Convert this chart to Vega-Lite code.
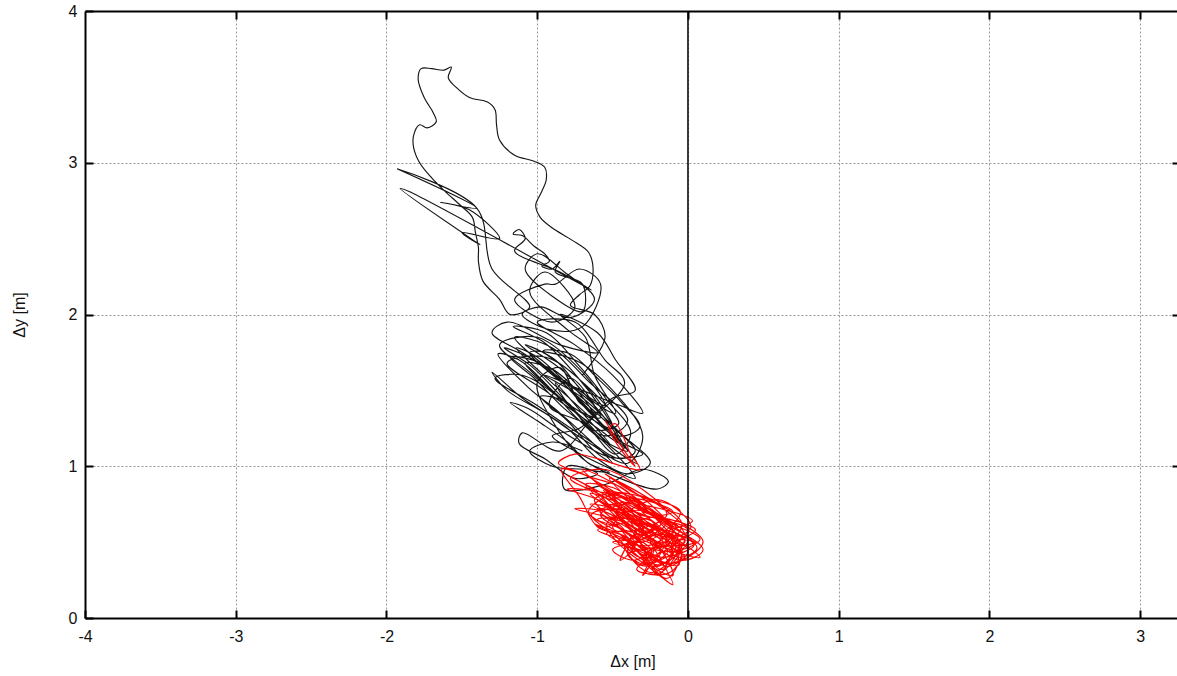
{
  "$schema": "https://vega.github.io/schema/vega-lite/v6.json",
  "width": 1095,
  "height": 607,
  "autosize": "none",
  "padding": {"left": 85, "top": 11, "right": 0, "bottom": 58},
  "background": "white",
  "config": {
    "view": {"stroke": null},
    "font": "Liberation Sans",
    "axis": {
      "domainColor": "#000", "domainWidth": 2, "tickColor": "#000", "tickWidth": 2, "tickSize": -8,
      "gridColor": "#999", "gridDash": [2, 2], "gridWidth": 1, "labelFlush": false
    }
  },
  "layer": [
    {
      "data": {"values": [
        {"x":-0.70,"y":1.60},{"x":-0.55,"y":1.85},{"x":-0.62,"y":2.00},{"x":-0.78,"y":2.06},{"x":-0.72,"y":2.13},{"x":-0.65,"y":2.19},{"x":-0.63,"y":2.31},{"x":-0.66,"y":2.41},{"x":-0.77,"y":2.49},{"x":-0.90,"y":2.57},{"x":-0.98,"y":2.64},{"x":-1.01,"y":2.72},{"x":-0.97,"y":2.81},{"x":-0.94,"y":2.89},{"x":-0.95,"y":2.97},{"x":-1.02,"y":3.01},{"x":-1.15,"y":3.05},{"x":-1.25,"y":3.15},{"x":-1.27,"y":3.25},{"x":-1.28,"y":3.35},{"x":-1.33,"y":3.40},{"x":-1.45,"y":3.43},{"x":-1.53,"y":3.49},{"x":-1.59,"y":3.56},{"x":-1.57,"y":3.63},{"x":-1.62,"y":3.61},{"x":-1.70,"y":3.62},{"x":-1.77,"y":3.62},{"x":-1.79,"y":3.55},{"x":-1.75,"y":3.43},{"x":-1.69,"y":3.33},{"x":-1.67,"y":3.27},{"x":-1.73,"y":3.23},{"x":-1.78,"y":3.25},{"x":-1.82,"y":3.18},{"x":-1.82,"y":3.10},{"x":-1.78,"y":3.00},{"x":-1.70,"y":2.90},{"x":-1.61,"y":2.81},{"x":-1.51,"y":2.72},{"x":-1.43,"y":2.64},{"x":-1.41,"y":2.54},{"x":-1.39,"y":2.44},{"x":-1.39,"y":2.35},{"x":-1.36,"y":2.22},{"x":-1.25,"y":2.10},{"x":-1.18,"y":2.00},
        {"x":-1.05,"y":2.05},{"x":-1.30,"y":2.30},{"x":-1.40,"y":2.70},{"x":-1.93,"y":2.96},{"x":-1.40,"y":2.70},{"x":-1.64,"y":2.74},{"x":-1.45,"y":2.69},{"x":-1.25,"y":2.50},{"x":-1.50,"y":2.54},{"x":-1.38,"y":2.46},{"x":-1.91,"y":2.83},{"x":-1.85,"y":2.81},{"x":-0.64,"y":2.16},{"x":-0.85,"y":2.28},
        {"x":-1.15,"y":2.42},{"x":-1.08,"y":2.50},{"x":-1.12,"y":2.56},{"x":-1.16,"y":2.53},{"x":-1.10,"y":2.52},{"x":-1.02,"y":2.45},{"x":-0.95,"y":2.40},{"x":-0.92,"y":2.35},{"x":-0.97,"y":2.32},{"x":-0.90,"y":2.30},{"x":-0.85,"y":2.35},{"x":-0.88,"y":2.28},{"x":-0.70,"y":2.20},
        {"x":-0.70,"y":2.02},{"x":-0.90,"y":2.12},{"x":-1.08,"y":2.30},{"x":-1.00,"y":2.40},{"x":-0.82,"y":2.28},{"x":-0.62,"y":2.10},{"x":-0.78,"y":1.98},{"x":-0.98,"y":2.05},{"x":-1.10,"y":2.00},{"x":-0.92,"y":1.90},{"x":-0.70,"y":1.92},{"x":-0.58,"y":2.20},{"x":-0.72,"y":2.30},{"x":-0.88,"y":2.20},
        {"x":-0.95,"y":2.20},{"x":-1.15,"y":2.10},{"x":-0.90,"y":1.95},{"x":-0.75,"y":2.05},{"x":-0.95,"y":2.28},{"x":-1.05,"y":2.15},{"x":-0.80,"y":1.90},{"x":-0.60,"y":1.75},{"x":-0.85,"y":1.80},{"x":-1.20,"y":1.95},{"x":-1.30,"y":1.88},{"x":-1.10,"y":1.75},{"x":-0.80,"y":1.55},{"x":-0.55,"y":1.40},{"x":-0.70,"y":1.62},{"x":-1.00,"y":1.85},{"x":-1.25,"y":1.80},{"x":-1.05,"y":1.62},{"x":-0.75,"y":1.38},{"x":-0.50,"y":1.25},{"x":-0.65,"y":1.50},{"x":-0.95,"y":1.72},{"x":-1.20,"y":1.68},{"x":-0.95,"y":1.50},{"x":-0.60,"y":1.25},{"x":-0.45,"y":1.15},{"x":-0.62,"y":1.40},{"x":-0.90,"y":1.62},{"x":-1.15,"y":1.85},{"x":-0.90,"y":1.78},{"x":-0.65,"y":1.55},{"x":-0.40,"y":1.30},{"x":-0.55,"y":1.20},{"x":-0.85,"y":1.45},{"x":-1.10,"y":1.60},{"x":-1.28,"y":1.58},{"x":-1.00,"y":1.40},{"x":-0.70,"y":1.20},{"x":-0.45,"y":1.05},{"x":-0.35,"y":1.10},{"x":-0.55,"y":1.30},{"x":-0.80,"y":1.52},{"x":-1.05,"y":1.75},{"x":-0.75,"y":1.70},{"x":-0.50,"y":1.50},{"x":-0.30,"y":1.20},{"x":-0.40,"y":1.02},{"x":-0.65,"y":1.15},{"x":-0.95,"y":1.35},{"x":-1.20,"y":1.50},{"x":-1.30,"y":1.62},{"x":-1.10,"y":1.45},{"x":-0.80,"y":1.25},{"x":-0.60,"y":1.05},{"x":-0.40,"y":0.95},{"x":-0.25,"y":1.02},{"x":-0.45,"y":1.22},{"x":-0.70,"y":1.45},{"x":-0.95,"y":1.60},{"x":-0.70,"y":1.50},{"x":-0.45,"y":1.40},{"x":-0.30,"y":1.35},{"x":-0.50,"y":1.60},{"x":-0.75,"y":1.80},{"x":-1.00,"y":1.95},{"x":-0.75,"y":1.95},{"x":-0.55,"y":1.70},{"x":-0.42,"y":1.55},{"x":-0.65,"y":1.30},{"x":-0.85,"y":1.10},{"x":-1.10,"y":1.22},{"x":-1.12,"y":1.15},{"x":-0.95,"y":1.05},{"x":-0.75,"y":0.92},{"x":-0.60,"y":0.95},{"x":-0.80,"y":1.00},{"x":-0.82,"y":0.85},{"x":-0.55,"y":0.88},{"x":-0.30,"y":0.98},{"x":-0.13,"y":0.90},{"x":-0.20,"y":0.85},{"x":-0.45,"y":0.92},{"x":-0.70,"y":1.05},{"x":-0.90,"y":1.30},{"x":-1.00,"y":1.55},{"x":-0.85,"y":1.65},{"x":-0.72,"y":1.42},{"x":-0.60,"y":1.35},{"x":-0.78,"y":1.58},{"x":-0.92,"y":1.40},{"x":-0.68,"y":1.28},{"x":-0.52,"y":1.15},{"x":-0.70,"y":1.35},{"x":-0.88,"y":1.55},{"x":-0.78,"y":1.40},{"x":-0.58,"y":1.32},{"x":-0.82,"y":1.62},{"x":-1.08,"y":1.80},{"x":-0.88,"y":1.70},{"x":-0.66,"y":1.45},{"x":-0.48,"y":1.35},{"x":-0.62,"y":1.60},{"x":-0.68,"y":1.85},{"x":-0.85,"y":2.00},{"x":-0.60,"y":1.88},{"x":-0.48,"y":1.70},{"x":-0.35,"y":1.50},{"x":-0.50,"y":1.45},{"x":-0.72,"y":1.25},{"x":-0.90,"y":1.20},{"x":-0.75,"y":1.10},{"x":-0.55,"y":1.00},{"x":-0.35,"y":0.92},
        {"x":-0.62,"y":1.22},{"x":-0.82,"y":1.38},{"x":-1.02,"y":1.58},{"x":-1.18,"y":1.72},{"x":-0.98,"y":1.68},{"x":-0.78,"y":1.50},{"x":-0.58,"y":1.28},{"x":-0.42,"y":1.12},{"x":-0.56,"y":1.36},{"x":-0.76,"y":1.62},{"x":-0.96,"y":1.82},{"x":-1.16,"y":1.92},{"x":-0.94,"y":1.88},{"x":-0.72,"y":1.66},{"x":-0.54,"y":1.44},{"x":-0.38,"y":1.22},{"x":-0.48,"y":1.08},{"x":-0.66,"y":1.26},{"x":-0.86,"y":1.48},{"x":-1.04,"y":1.66},{"x":-1.22,"y":1.78},{"x":-1.02,"y":1.70},{"x":-0.84,"y":1.56},{"x":-0.64,"y":1.34},{"x":-0.46,"y":1.18},{"x":-0.34,"y":1.02},{"x":-0.50,"y":1.12},{"x":-0.70,"y":1.32},{"x":-0.90,"y":1.50},{"x":-1.08,"y":1.68},{"x":-0.90,"y":1.64},{"x":-0.72,"y":1.48},{"x":-0.56,"y":1.26},{"x":-0.40,"y":1.10},{"x":-0.58,"y":1.18},{"x":-0.76,"y":1.34},{"x":-0.94,"y":1.54},{"x":-1.12,"y":1.70},{"x":-1.26,"y":1.74},{"x":-1.06,"y":1.52},{"x":-0.86,"y":1.36},{"x":-0.66,"y":1.18},{"x":-0.50,"y":1.02},{"x":-0.62,"y":1.10},{"x":-0.80,"y":1.30},{"x":-0.98,"y":1.46},{"x":-0.80,"y":1.42},{"x":-0.64,"y":1.24},{"x":-0.46,"y":1.28},{"x":-0.60,"y":1.46},{"x":-0.80,"y":1.64},{"x":-0.96,"y":1.76},{"x":-0.78,"y":1.74},{"x":-0.60,"y":1.58},{"x":-0.44,"y":1.42},{"x":-0.32,"y":1.26},{"x":-0.46,"y":1.20},{"x":-0.68,"y":1.40},{"x":-0.84,"y":1.58},{"x":-1.00,"y":1.72},{"x":-1.14,"y":1.78},{"x":-0.98,"y":1.62},{"x":-0.80,"y":1.46},{"x":-0.62,"y":1.30},{"x":-0.44,"y":1.16},{"x":-0.30,"y":1.08},{"x":-0.52,"y":1.06},{"x":-0.72,"y":1.16},{"x":-0.88,"y":1.26},{"x":-1.06,"y":1.38},{"x":-1.18,"y":1.42},{"x":-1.00,"y":1.30},{"x":-0.80,"y":1.16},{"x":-0.66,"y":1.02},{"x":-0.52,"y":0.96},{"x":-0.70,"y":0.98},{"x":-0.90,"y":1.00},{"x":-1.05,"y":1.10},{"x":-0.90,"y":1.16},{"x":-0.70,"y":1.10}
      ]},
      "mark": {"type": "line", "color": "#151515", "strokeWidth": 1.15, "interpolate": "catmull-rom", "clip": true},
      "encoding": {
        "x": {"field": "x", "type": "quantitative", "scale": {"domain": [-4, 3.264], "nice": false, "zero": false},
          "axis": {"orient": "bottom", "title": "Δx [m]", "values": [-4,-3,-2,-1,0,1,2,3], "labelExpr": "toString(datum.value)", "grid": true, "labelPadding": 18, "titlePadding": 9,
            "labelFont": "Liberation Sans", "labelFontSize": 16, "labelColor": "#111", "titleFont": "Liberation Sans", "titleFontSize": 16, "titleFontWeight": "normal", "titleColor": "#111"}},
        "y": {"field": "y", "type": "quantitative", "scale": {"domain": [0, 4], "nice": false},
          "axis": {"orient": "left", "title": "Δy [m]", "values": [0,1,2,3,4], "labelExpr": "toString(datum.value)", "grid": true, "labelPadding": 16, "titlePadding": 41,
            "labelFont": "Liberation Sans", "labelFontSize": 16, "labelColor": "#111", "titleFont": "Liberation Sans", "titleFontSize": 16, "titleFontWeight": "normal", "titleColor": "#111"}},
        "order": {"value": null}
      }
    },
    {
      "data": {"values": [
        {"x":-0.55,"y":1.30},{"x":-0.50,"y":1.22},{"x":-0.42,"y":1.10},{"x":-0.35,"y":1.00},{"x":-0.40,"y":1.05},{"x":-0.52,"y":1.25},{"x":-0.48,"y":1.28},{"x":-0.38,"y":1.08},{"x":-0.32,"y":0.98},
        {"x":-0.60,"y":1.05},{"x":-0.75,"y":1.08},{"x":-0.86,"y":1.02},{"x":-0.70,"y":0.95},{"x":-0.30,"y":0.72},{"x":-0.10,"y":0.60},{"x":-0.45,"y":0.80},{"x":-0.80,"y":0.85},{"x":-0.60,"y":0.78},{"x":-0.20,"y":0.55},{"x":0.05,"y":0.50},{"x":-0.15,"y":0.48},{"x":-0.55,"y":0.70},{"x":-0.75,"y":0.72},{"x":-0.40,"y":0.62},{"x":-0.05,"y":0.38},{"x":0.10,"y":0.45},{"x":-0.20,"y":0.65},{"x":-0.60,"y":0.88},{"x":-0.35,"y":0.70},{"x":-0.10,"y":0.42},{"x":-0.25,"y":0.30},{"x":-0.40,"y":0.45},{"x":-0.15,"y":0.62},{"x":-0.50,"y":0.82},{"x":-0.30,"y":0.58},{"x":0.00,"y":0.52},{"x":-0.20,"y":0.35},{"x":-0.45,"y":0.55},{"x":-0.62,"y":0.62},{"x":-0.30,"y":0.50},{"x":-0.05,"y":0.70},{"x":-0.35,"y":0.82},{"x":-0.55,"y":0.95},{"x":-0.25,"y":0.75},{"x":-0.10,"y":0.55},{"x":-0.30,"y":0.40},{"x":-0.15,"y":0.25},{"x":-0.10,"y":0.22},{"x":-0.22,"y":0.45},{"x":-0.40,"y":0.72},{"x":-0.65,"y":0.82},{"x":-0.45,"y":0.68},{"x":-0.15,"y":0.52},{"x":0.02,"y":0.60},{"x":-0.20,"y":0.78},{"x":-0.50,"y":0.60},{"x":-0.35,"y":0.48},{"x":-0.45,"y":0.38},{"x":-0.28,"y":0.62},{"x":-0.05,"y":0.45},{"x":-0.18,"y":0.32},{"x":-0.35,"y":0.55},{"x":-0.55,"y":0.75},{"x":-0.30,"y":0.68},{"x":-0.08,"y":0.60},{"x":-0.25,"y":0.48},{"x":-0.42,"y":0.48},{"x":-0.32,"y":0.35},{"x":-0.12,"y":0.38},{"x":-0.02,"y":0.55},{"x":-0.22,"y":0.70},{"x":-0.48,"y":0.88},{"x":-0.70,"y":0.98},{"x":-0.48,"y":0.78},{"x":-0.28,"y":0.55},{"x":-0.12,"y":0.45},{"x":0.08,"y":0.40},{"x":-0.18,"y":0.58},{"x":-0.38,"y":0.65},{"x":-0.60,"y":0.65},{"x":-0.42,"y":0.58},{"x":-0.22,"y":0.50},{"x":-0.30,"y":0.28},{"x":-0.20,"y":0.42},{"x":-0.04,"y":0.62},{"x":-0.28,"y":0.80},{"x":-0.52,"y":0.92},{"x":-0.35,"y":0.75},{"x":-0.18,"y":0.62},{"x":-0.38,"y":0.52},{"x":-0.50,"y":0.50},{"x":-0.32,"y":0.45},{"x":-0.15,"y":0.40},{"x":-0.24,"y":0.52},{"x":-0.45,"y":0.65},{"x":-0.65,"y":0.75},{"x":-0.42,"y":0.70},{"x":-0.25,"y":0.60},{"x":-0.10,"y":0.50},{"x":-0.20,"y":0.28},{"x":-0.28,"y":0.42},{"x":-0.36,"y":0.60},{"x":-0.55,"y":0.85},{"x":-0.32,"y":0.68},{"x":-0.12,"y":0.65},{"x":0.05,"y":0.58},{"x":-0.15,"y":0.48},{"x":-0.40,"y":0.42},{"x":-0.26,"y":0.35},{"x":-0.08,"y":0.52},{"x":-0.30,"y":0.62},
        {"x":-0.50,"y":0.72},{"x":-0.28,"y":0.52},{"x":-0.05,"y":0.48},{"x":-0.22,"y":0.38},{"x":-0.38,"y":0.58},{"x":-0.58,"y":0.70},{"x":-0.40,"y":0.76},{"x":-0.20,"y":0.60},{"x":0.00,"y":0.44},{"x":-0.14,"y":0.34},{"x":-0.32,"y":0.50},{"x":-0.52,"y":0.66},{"x":-0.34,"y":0.64},{"x":-0.16,"y":0.55},{"x":-0.06,"y":0.35},{"x":-0.24,"y":0.40},{"x":-0.44,"y":0.60},{"x":-0.62,"y":0.78},{"x":-0.40,"y":0.82},{"x":-0.22,"y":0.66},{"x":-0.02,"y":0.50},{"x":-0.20,"y":0.46},{"x":-0.36,"y":0.38},{"x":-0.50,"y":0.45},{"x":-0.30,"y":0.52},{"x":-0.12,"y":0.58},{"x":0.03,"y":0.64},{"x":-0.18,"y":0.72},{"x":-0.42,"y":0.75},{"x":-0.58,"y":0.68},{"x":-0.38,"y":0.55},{"x":-0.18,"y":0.44},{"x":-0.28,"y":0.30},{"x":-0.12,"y":0.30},{"x":-0.04,"y":0.42},{"x":-0.22,"y":0.56},{"x":-0.46,"y":0.70},{"x":-0.68,"y":0.88},{"x":-0.50,"y":0.86},{"x":-0.30,"y":0.74},{"x":-0.10,"y":0.62},{"x":0.08,"y":0.52},{"x":-0.08,"y":0.44},{"x":-0.26,"y":0.46},{"x":-0.44,"y":0.52},{"x":-0.60,"y":0.58},{"x":-0.46,"y":0.62},{"x":-0.26,"y":0.66},{"x":-0.10,"y":0.70},{"x":-0.30,"y":0.78},{"x":-0.52,"y":0.78},{"x":-0.36,"y":0.66},{"x":-0.16,"y":0.50},{"x":-0.02,"y":0.40},{"x":-0.16,"y":0.36},{"x":-0.34,"y":0.44},{"x":-0.54,"y":0.56},{"x":-0.34,"y":0.58},{"x":-0.14,"y":0.68},{"x":-0.32,"y":0.86},{"x":-0.56,"y":0.98},{"x":-0.78,"y":0.92},{"x":-0.56,"y":0.80},{"x":-0.34,"y":0.62},{"x":-0.16,"y":0.42},{"x":-0.10,"y":0.28},{"x":-0.24,"y":0.34},{"x":-0.40,"y":0.50},{"x":-0.26,"y":0.58},{"x":-0.08,"y":0.56},{"x":0.04,"y":0.48},{"x":-0.18,"y":0.40},{"x":-0.36,"y":0.48},{"x":-0.22,"y":0.62},{"x":-0.40,"y":0.68},{"x":-0.60,"y":0.72},{"x":-0.44,"y":0.58},{"x":-0.24,"y":0.44},{"x":-0.34,"y":0.32},{"x":-0.18,"y":0.30},{"x":-0.06,"y":0.50},{"x":-0.26,"y":0.70},{"x":-0.48,"y":0.66},{"x":-0.30,"y":0.46},{"x":-0.14,"y":0.52},{"x":-0.30,"y":0.64},{"x":-0.46,"y":0.76},{"x":-0.64,"y":0.86},{"x":-0.80,"y":0.94},
        {"x":-0.62,"y":0.84},{"x":-0.42,"y":0.64},{"x":-0.20,"y":0.50},{"x":-0.06,"y":0.40},{"x":0.06,"y":0.46},{"x":-0.12,"y":0.62},{"x":-0.34,"y":0.72},{"x":-0.56,"y":0.84},{"x":-0.38,"y":0.80},{"x":-0.18,"y":0.66},{"x":0.00,"y":0.58},{"x":-0.16,"y":0.44},{"x":-0.32,"y":0.40},{"x":-0.48,"y":0.54},{"x":-0.64,"y":0.68},{"x":-0.46,"y":0.72},{"x":-0.28,"y":0.64},{"x":-0.08,"y":0.48},{"x":-0.20,"y":0.34},{"x":-0.38,"y":0.42},{"x":-0.54,"y":0.62},{"x":-0.36,"y":0.70},{"x":-0.16,"y":0.58},{"x":-0.04,"y":0.46},{"x":-0.14,"y":0.26},{"x":-0.28,"y":0.38},{"x":-0.46,"y":0.56},{"x":-0.66,"y":0.70},{"x":-0.48,"y":0.82},{"x":-0.26,"y":0.78},{"x":-0.06,"y":0.64},{"x":0.10,"y":0.50},{"x":-0.10,"y":0.36},{"x":-0.26,"y":0.42},{"x":-0.42,"y":0.54},{"x":-0.60,"y":0.60},{"x":-0.72,"y":0.80},{"x":-0.84,"y":0.98},{"x":-0.62,"y":0.92},{"x":-0.44,"y":0.86},{"x":-0.24,"y":0.68},{"x":-0.10,"y":0.54}
      ]},
      "mark": {"type": "line", "color": "#ff0000", "strokeWidth": 1.15, "interpolate": "catmull-rom", "clip": true},
      "encoding": {
        "x": {"field": "x", "type": "quantitative", "scale": {"domain": [-4, 3.264], "nice": false, "zero": false}, "axis": null},
        "y": {"field": "y", "type": "quantitative", "scale": {"domain": [0, 4], "nice": false}, "axis": null},
        "order": {"value": null}
      }
    },
    {
      "data": {"values": [{"x": 0}]},
      "mark": {"type": "rule", "color": "#000", "strokeWidth": 1.5},
      "encoding": {
        "x": {"field": "x", "type": "quantitative", "scale": {"domain": [-4, 3.264], "nice": false, "zero": false},
          "axis": {"orient": "top", "title": null, "labels": false, "values": [-3,-2,-1,0,1,2,3], "grid": false}}
      }
    },
    {
      "data": {"values": [{"y": 0}]},
      "mark": {"type": "rule", "opacity": 0},
      "encoding": {
        "y": {"field": "y", "type": "quantitative", "scale": {"domain": [0, 4], "nice": false},
          "axis": {"orient": "right", "title": null, "labels": false, "values": [1,2,3], "grid": false}}
      }
    }
  ],
  "resolve": {"scale": {"x": "independent", "y": "independent"}, "axis": {"x": "independent", "y": "independent"}}
}
